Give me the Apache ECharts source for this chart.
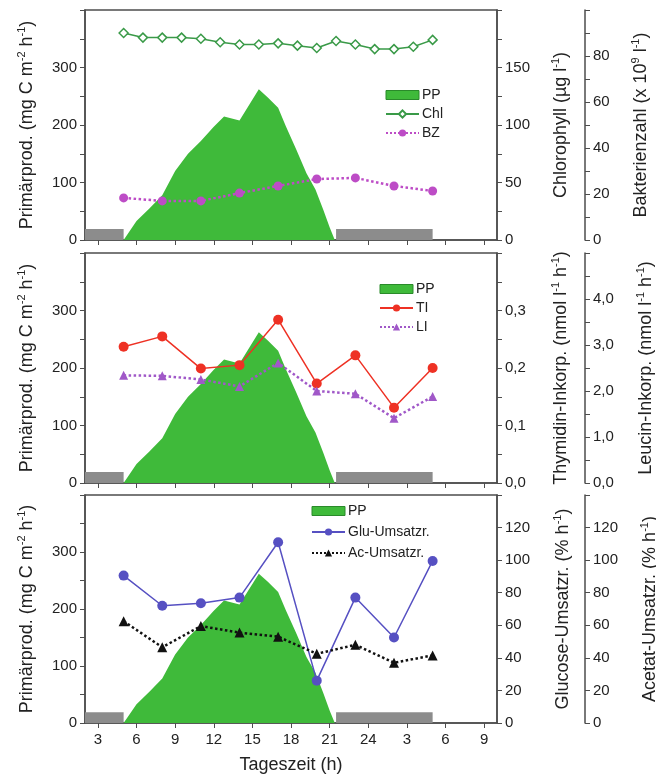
<!DOCTYPE html>
<html>
<head>
<meta charset="utf-8">
<script src="https://cdn.jsdelivr.net/npm/echarts@6/dist/echarts.min.js"></script>
<style>html,body{margin:0;padding:0;background:#fff}#main{width:656px;height:782px}</style>
</head>
<body>
<div id="main"></div>
<script>
// Messzeitpunkte (Stunden, fortlaufend ueber Mitternacht: 26 = 2 Uhr)
var hours = [5, 8, 11, 14, 17, 20, 23, 26, 29];
var chlHours = [5, 6.5, 8, 9.5, 11, 12.5, 14, 15.5, 17, 18.5, 20, 21.5, 23, 24.5, 26, 27.5, 29];
var chl = [180, 176, 176, 176, 175, 172, 170, 170, 171, 169, 167, 173, 170, 166, 166, 168, 174];
var bz = [18.3, 17, 17, 20.4, 23.5, 26.5, 27, 23.5, 21.3];
var ti = [0.237, 0.255, 0.199, 0.205, 0.284, 0.173, 0.222, 0.131, 0.200];
var li = [2.34, 2.33, 2.25, 2.1, 2.61, 2.0, 1.94, 1.41, 1.88];
var glu = [90.5, 72, 73.5, 77, 111, 26, 77, 52.5, 99.5];
var ac = [62.5, 46.5, 59.5, 55.5, 53, 42.5, 48, 37, 41.5];
// Primaerproduktion
var ppHours = [5, 6, 7, 8, 9, 10, 11, 12, 12.8, 14, 15.5, 16.2, 17, 17.6, 18.4, 19.2, 19.9, 20.5, 21, 21.4];
var ppValues = [0, 33, 55, 78, 120, 150, 172, 197, 215, 208, 262, 248, 230, 198, 158, 116, 88, 53, 22, 0];
// Nachtphasen (grauer Balken)
var nightBands = [[2, 5], [21.5, 29]];
var nightLevel = 19;
var xTicks = [3, 6, 9, 12, 15, 18, 21, 24, 27, 30, 33];

function pairs(xs, ys) {
  var out = [];
  for (var i = 0; i < xs.length; i++) out.push([xs[i], ys[i]]);
  return out;
}
function comma(v) { return v.toFixed(1).replace('.', ','); }

var FONT = "'Liberation Sans', Arial, sans-serif";
var TXT = '#222';
var BORDER = '#4d4d4d';
var GREEN = '#3fba3a';

var myChart = echarts.init(document.getElementById('main'));

var grids = [
  { left: 85, right: 159, top: 10, height: 230 },
  { left: 85, right: 159, top: 253, height: 230 },
  { left: 85, right: 159, top: 495, height: 228 }
];
grids.forEach(function (g) {
  g.show = true; g.borderColor = BORDER; g.borderWidth = 1.5;
  g.containLabel = false; g.outerBoundsMode = 'none';
});

var xAxes = [0, 1, 2].map(function (i) {
  return {
    type: 'value', gridIndex: i, min: 2, max: 34,
    axisLine: { lineStyle: { color: BORDER, width: 1.5 } },
    axisTick: { customValues: xTicks, length: 5, lineStyle: { color: BORDER } },
    axisLabel: {
      show: i === 2, customValues: xTicks, color: TXT, fontSize: 15, fontFamily: FONT, margin: 9,
      formatter: function (v) { return v > 24 ? v - 24 : v; }
    },
    splitLine: { show: false },
    name: i === 2 ? 'Tageszeit (h)' : '', nameLocation: 'middle', nameGap: 33,
    nameTextStyle: { color: TXT, fontSize: 18, fontFamily: FONT }
  };
});

var rich = {
  n: { fontSize: 18, fontFamily: FONT, color: TXT, lineHeight: 22 },
  s: { fontSize: 11, fontFamily: FONT, color: TXT, lineHeight: 22, verticalAlign: 'top' }
};

function yAx(grid, pos, offset, min, max, interval, labels, name, gap, fmt) {
  return {
    type: 'value', gridIndex: grid, position: pos, offset: offset,
    min: min, max: max, interval: interval,
    axisLine: { show: true, lineStyle: { color: BORDER, width: 1.5 } },
    axisTick: { show: true, length: 5, lineStyle: { color: BORDER } },
    axisLabel: { customValues: labels, color: TXT, fontSize: 15, fontFamily: FONT, margin: 8,
      formatter: fmt || function (v) { return v; } },
    splitLine: { show: false },
    name: name, nameLocation: 'middle', nameRotate: 90, nameGap: gap,
    nameTextStyle: { rich: rich }
  };
}

var ppName = '{n|Primärprod. (mg C m}{s|-2}{n| h}{s|-1}{n|)}';
var yAxes = [
  yAx(0, 'left', 0, 0, 400, 50, [0, 100, 200, 300], ppName, 47),
  yAx(0, 'right', 0, 0, 200, 25, [0, 50, 100, 150], '{n|Chlorophyll (µg l}{s|-1}{n|)}', 53),
  yAx(0, 'right', 88, 0, 100, 10, [0, 20, 40, 60, 80], '{n|Bakterienzahl (x 10}{s|9}{n| l}{s|-1}{n|)}', 45),
  yAx(1, 'left', 0, 0, 400, 50, [0, 100, 200, 300], ppName, 47),
  yAx(1, 'right', 0, 0, 0.4, 0.05, [0, 0.1, 0.2, 0.3], '{n|Thymidin-Inkorp. (nmol l}{s|-1}{n| h}{s|-1}{n|)}', 53, comma),
  yAx(1, 'right', 88, 0, 5, 0.5, [0, 1, 2, 3, 4], '{n|Leucin-Inkorp. (nmol l}{s|-1}{n| h}{s|-1}{n|)}', 50, comma),
  yAx(2, 'left', 0, 0, 400, 50, [0, 100, 200, 300], ppName, 47),
  yAx(2, 'right', 0, 0, 140, 20, [0, 20, 40, 60, 80, 100, 120], '{n|Glucose-Umsatzr. (% h}{s|-1}{n|)}', 55),
  yAx(2, 'right', 88, 0, 140, 20, [0, 20, 40, 60, 80, 100, 120], '{n|Acetat-Umsatzr. (% h}{s|-1}{n|)}', 54)
];

function ppSeries(grid) {
  return {
    name: 'PP', type: 'line', xAxisIndex: grid, yAxisIndex: grid * 3,
    data: pairs(ppHours, ppValues), showSymbol: false, symbol: 'none',
    lineStyle: { width: 0 }, itemStyle: { color: GREEN, borderColor: '#2a8a2a', borderWidth: 1 },
    areaStyle: { color: GREEN, opacity: 1 }, z: 1, silent: true,
    markArea: {
      silent: true,
      itemStyle: { color: '#8c8c8c' },
      data: nightBands.map(function (b) {
        return [{ xAxis: b[0], yAxis: 0 }, { xAxis: b[1], yAxis: nightLevel }];
      })
    }
  };
}

function lineSeries(name, grid, axis, xs, ys, color, symbol, size, dotted, hollow) {
  return {
    name: name, type: 'line', xAxisIndex: grid, yAxisIndex: grid * 3 + axis,
    data: pairs(xs, ys), symbol: symbol, symbolSize: size, z: 5,
    lineStyle: { color: color, width: dotted ? 2.5 : 1.5, type: dotted ? 'dotted' : 'solid' },
    itemStyle: hollow ? { color: '#fff', borderColor: color, borderWidth: 1.5 } : { color: color }
  };
}

var series = [
  ppSeries(0),
  lineSeries('Chl', 0, 1, chlHours, chl, '#3a9a48', 'diamond', 9, false, true),
  lineSeries('BZ', 0, 2, hours, bz, '#bd4cc6', 'circle', 9, true, false),
  ppSeries(1),
  lineSeries('TI', 1, 1, hours, ti, '#ee3124', 'circle', 10, false, false),
  lineSeries('LI', 1, 2, hours, li, '#a058c8', 'triangle', 9, true, false),
  ppSeries(2),
  lineSeries('Glu-Umsatzr.', 2, 1, hours, glu, '#5650c2', 'circle', 10, false, false),
  lineSeries('Ac-Umsatzr.', 2, 2, hours, ac, '#111111', 'triangle', 10, true, false)
];

function legend(left, top, names, gap) {
  return {
    orient: 'vertical', left: left, top: top, itemWidth: 33, itemHeight: 9, itemGap: gap,
    selectedMode: false,
    textStyle: { color: TXT, fontSize: 14, fontFamily: FONT, padding: [0, 0, 0, -2] },
    data: [{ name: 'PP', icon: 'rect', itemStyle: { color: GREEN, borderColor: '#2a8a2a', borderWidth: 1 } }]
      .concat(names.map(function (n) { return { name: n }; }))
  };
}

var option = {
  animation: false,
  backgroundColor: '#fff',
  grid: grids,
  xAxis: xAxes,
  yAxis: yAxes,
  legend: [
    legend(380, 83, ['Chl', 'BZ'], 5),
    legend(374, 277, ['TI', 'LI'], 5),
    legend(306, 499, ['Glu-Umsatzr.', 'Ac-Umsatzr.'], 7)
  ],
  series: series
};

myChart.setOption(option);
</script>
</body>
</html>
